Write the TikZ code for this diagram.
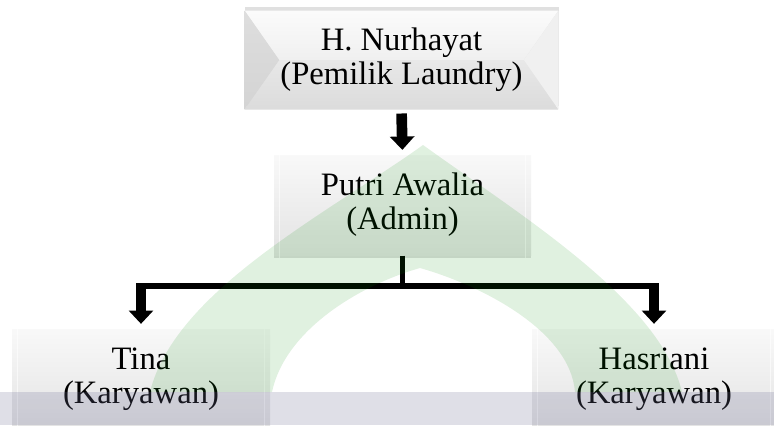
\documentclass[tikz,border=0pt]{standalone}
\usepackage{fontspec}
\setmainfont{Liberation Serif}
\usetikzlibrary{arrows.meta}
\pgfdeclarelayer{background}
\pgfsetlayers{background,main}
\definecolor{bandcol}{RGB}{110,110,150}
\tikzset{every picture/.style={line width=0.75pt}}

\begin{document}
\begin{tikzpicture}[x=0.75pt,y=0.75pt,yscale=-1,xscale=1,
  orgbox/.style={align=center, inner sep=0pt, font=\fontsize{24.5}{25.5}\selectfont},
  softbox/.style={orgbox, top color=gray!5, bottom color=gray!22,
    preaction={fill=black, opacity=0.12, transform canvas={yshift=-2.5pt}}},
  arr/.style={line width=8pt, -{Triangle[width=18pt,length=10pt]}, shorten >=3.5pt, shorten <=3pt},
  hline/.style={line width=4.5pt},
  vline/.style={line width=3.75pt}]
%set diagram size 774 x 425
\useasboundingbox (0,0) rectangle (774,425);
\clip (0,0) rectangle (774,425);
% Text Node
\node[orgbox, minimum width=234.75pt, minimum height=73.5pt] (owner) at (401.5,60) {H. Nurhayat\\(Pemilik Laundry)};
% Text Node
\node[softbox, minimum width=192.75pt, minimum height=75pt] (admin) at (402.5,205) {Putri Awalia\\(Admin)};
% Text Node
\node[softbox, minimum width=193.5pt, minimum height=75pt] (tina) at (141,379) {Tina\\(Karyawan)};
% Text Node
\node[softbox, minimum width=183pt, minimum height=75pt] (hasri) at (654,379) {Hasriani\\(Karyawan)};
%Shape: Bevel of the top box
\begin{pgfonlayer}{background}
\fill[white] (0,0) rectangle (774,425);
\fill[black, opacity=0.12] ([yshift=-2.5pt]owner.north west) rectangle ([yshift=-2.5pt]owner.south east);
\shade[top color=gray!3, bottom color=gray!12] (owner.north west) -- (owner.north east) -- ([xshift=-26pt]owner.east) -- ([xshift=26pt]owner.west) -- cycle;
\shade[top color=gray!18, bottom color=gray!28] ([xshift=26pt]owner.west) -- ([xshift=-26pt]owner.east) -- (owner.south east) -- (owner.south west) -- cycle;
\shade[top color=gray!26, bottom color=gray!34] (owner.north west) -- ([xshift=26pt]owner.west) -- (owner.south west) -- cycle;
\fill[gray!12] (owner.north east) -- ([xshift=-26pt]owner.east) -- (owner.south east) -- cycle;
\end{pgfonlayer}
%Shape: inner edge of the soft boxes
\foreach \b in {admin,tina,hasri}
  \draw[white, opacity=0.6] ([shift={(4.5pt,-4.5pt)}]\b.north west) rectangle ([shift={(-4.5pt,4.5pt)}]\b.south east);
%Straight Lines
\draw[arr] (owner.south) -- (admin.north);
\coordinate (bus) at (0,286);
%Straight Lines
\draw[vline] (admin.south) -- (admin.south |- bus);
\draw[hline] (tina.north |- bus) -- (hasri.north |- bus);
\draw[arr, shorten <=-2.25pt] (tina.north |- bus) -- (tina.north);
\draw[arr, shorten <=-2.25pt] (hasri.north |- bus) -- (hasri.north);
%Shape: watermark
\fill[green!55!black, opacity=0.12]
  (150,392) .. controls (175,290) and (330,212) .. (423,145)
  .. controls (520,215) and (660,300) .. (682,392) -- (575,392)
  .. controls (570,330) and (480,285) .. (420,268)
  .. controls (360,285) and (285,330) .. (272,392) -- cycle;
\fill[bandcol, opacity=0.22] (0,392) rectangle (774,425);
\end{tikzpicture}
\end{document}
